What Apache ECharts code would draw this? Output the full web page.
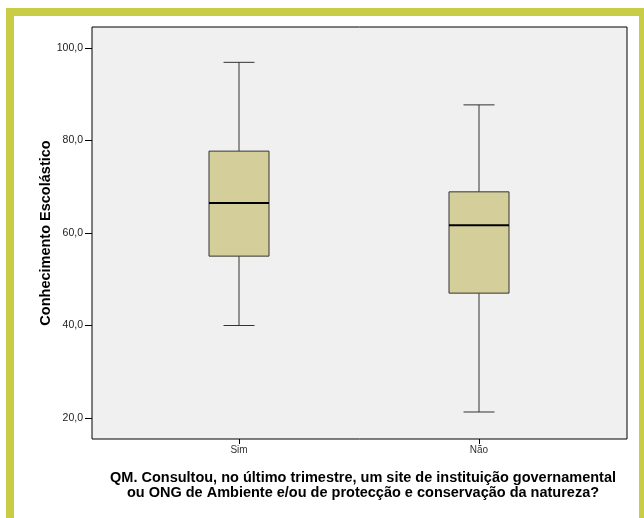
<!DOCTYPE html>
<html>
<head>
<meta charset="utf-8">
<script src="https://cdn.jsdelivr.net/npm/echarts@6/dist/echarts.min.js"></script>
<style>
  html, body { margin: 0; padding: 0; background: #fff; }
  #chart { width: 644px; height: 518px; }
</style>
</head>
<body>
<div id="chart"></div>
<script>
const categories = ['Sim', 'Não']
// [lower whisker, Q1, median, Q3, upper whisker]
const sim = [40.0, 55.0, 66.5, 77.7, 96.9]
const nao = [21.3, 47.0, 61.7, 68.9, 87.7]
const boxes = [sim, nao]
const yTicks = [20, 40, 60, 80, 100]

const fmt = v => v.toFixed(1).replace('.', ',')

function renderBox (params, api) {
  const i = api.value(0)
  const lo = api.coord([i, api.value(1)])
  const q1 = api.coord([i, api.value(2)])
  const md = api.coord([i, api.value(3)])
  const q3 = api.coord([i, api.value(4)])
  const hi = api.coord([i, api.value(5)])
  const x = lo[0]
  const half = 30
  const cap = 15.5
  const line = { stroke: '#333', lineWidth: 1 }
  return {
    type: 'group',
    children: [
      { type: 'line', shape: { x1: x, y1: hi[1], x2: x, y2: q3[1] }, style: line },
      { type: 'line', shape: { x1: x, y1: q1[1], x2: x, y2: lo[1] }, style: line },
      { type: 'line', shape: { x1: x - cap, y1: hi[1], x2: x + cap, y2: hi[1] }, style: line },
      { type: 'line', shape: { x1: x - cap, y1: lo[1], x2: x + cap, y2: lo[1] }, style: line },
      {
        type: 'rect',
        shape: { x: x - half, y: q3[1], width: half * 2, height: q1[1] - q3[1] },
        style: { fill: '#d4cf9a', stroke: '#333', lineWidth: 1 }
      },
      { type: 'line', shape: { x1: x - half, y1: md[1], x2: x + half, y2: md[1] }, style: { stroke: '#000', lineWidth: 2 } }
    ]
  }
}

const yRange = { min: 15.46, max: 104.54 }

const option = {
  backgroundColor: '#fff',
  animation: false,
  graphic: [
    { type: 'rect', shape: { x: 6, y: 8, width: 8, height: 510 }, style: { fill: '#c9cd46' } },
    { type: 'rect', shape: { x: 6, y: 8, width: 638, height: 8 }, style: { fill: '#c9cd46' } },
    { type: 'rect', shape: { x: 639, y: 8, width: 5, height: 510 }, style: { fill: '#c9cd46' } }
  ],
  title: {
    text: 'QM. Consultou, no último trimestre, um site de instituição governamental\nou ONG de Ambiente e/ou de protecção e conservação da natureza?',
    left: 358,
    top: 465,
    textAlign: 'center',
    textStyle: {
      fontFamily: 'Liberation Sans, Arial, sans-serif',
      fontSize: 14.5,
      fontWeight: 'bold',
      color: '#000',
      lineHeight: 15
    }
  },
  grid: [
    {
      left: 92, right: 17, top: 27, bottom: 79,
      show: true,
      backgroundColor: '#f0f0f0',
      borderColor: '#000',
      borderWidth: 1
    },
    { left: 119, width: 480, top: 27, bottom: 79 }
  ],
  xAxis: [
    { gridIndex: 0, type: 'value', show: false, min: 0, max: 1 },
    {
      gridIndex: 1,
      type: 'category',
      data: categories,
      axisLine: { show: false },
      axisTick: { show: true, alignWithLabel: true, length: 5, lineStyle: { color: '#000' } },
      axisLabel: {
        margin: 6,
        fontFamily: 'Liberation Sans, Arial, sans-serif',
        fontSize: 10,
        color: '#333'
      }
    }
  ],
  yAxis: [
    {
      gridIndex: 0,
      type: 'value',
      min: yRange.min,
      max: yRange.max,
      name: 'Conhecimento Escolástico',
      nameLocation: 'middle',
      nameGap: 39,
      nameMoveOverlap: false,
      nameTextStyle: {
        fontFamily: 'Liberation Sans, Arial, sans-serif',
        fontSize: 14.5,
        fontWeight: 'bold',
        color: '#000'
      },
      axisLine: { show: false },
      splitLine: { show: false },
      axisTick: { show: true, length: 7, customValues: yTicks, lineStyle: { color: '#000' } },
      axisLabel: {
        customValues: yTicks,
        margin: 9,
        formatter: fmt,
        fontFamily: 'Liberation Sans, Arial, sans-serif',
        fontSize: 10.5,
        color: '#222'
      }
    },
    { gridIndex: 1, type: 'value', min: yRange.min, max: yRange.max, show: false }
  ],
  series: [
    {
      type: 'custom',
      xAxisIndex: 1,
      yAxisIndex: 1,
      renderItem: renderBox,
      data: boxes.map((b, i) => [i].concat(b))
    }
  ]
}

const chart = echarts.init(document.getElementById('chart'))
chart.setOption(option)
window.addEventListener('resize', () => chart.resize())
</script>
</body>
</html>
